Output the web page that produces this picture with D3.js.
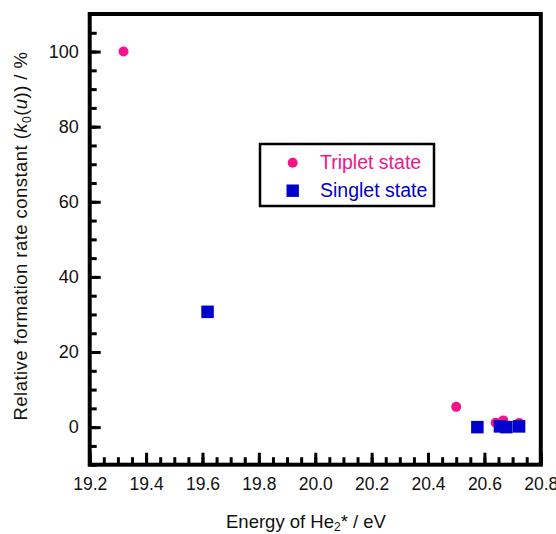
<!DOCTYPE html>
<html>
<head>
<meta charset="utf-8">
<script src="https://cdn.jsdelivr.net/npm/d3@7"></script>
<style>
  html, body { margin: 0; padding: 0; background: #fff; }
  svg { display: block; }
  text { font-family: "Liberation Sans", Arial, sans-serif; fill: #111; }
</style>
</head>
<body>
<svg id="chart" width="556" height="534"></svg>
<script>
// ---- data ----
const tripletEnergy = [19.32, 20.50, 20.64, 20.667, 20.723];
const tripletRate   = [100,   5.4,   1.2,   1.8,    1.1];
const singletEnergy = [19.618, 20.575, 20.655, 20.678, 20.723];
const singletRate   = [30.7,   0.0,    0.2,    0.0,    0.2];
const xTickLabels = [19.2, 19.4, 19.6, 19.8, 20.0, 20.2, 20.4, 20.6, 20.8];
const yTickLabels = [0, 20, 40, 60, 80, 100];
const seriesNames = ["Triplet state", "Singlet state"];
const seriesColors = ["#f5138c", "#0000cc"];

// ---- layout ----
const L = 89.7, R = 540.8, T = 14, B = 464.7;
const svg = d3.select("#chart");
const x = d3.scaleLinear().domain([19.2, 20.8]).range([L, R]);
const y = d3.scaleLinear().domain([-10, 110]).range([B, T]);

const xMinor = d3.range(0, 33).map(i => 19.2 + i * 0.05);
const yMinor = d3.range(-10, 111, 5);

// minor ticks
svg.append("g").attr("transform", `translate(0,${B})`)
  .call(d3.axisBottom(x).tickValues(xMinor).tickSize(-7.5).tickFormat(""))
  .call(g => g.select(".domain").remove())
  .call(g => g.selectAll("line").attr("stroke", "#000").attr("stroke-width", 3));
svg.append("g").attr("transform", `translate(${L},0)`)
  .call(d3.axisLeft(y).tickValues(yMinor).tickSize(-7).tickFormat(""))
  .call(g => g.select(".domain").remove())
  .call(g => g.selectAll("line").attr("stroke", "#000").attr("stroke-width", 3));

// major ticks + labels
svg.append("g").attr("transform", `translate(0,${B})`)
  .call(d3.axisBottom(x).tickValues(xTickLabels).tickSize(-12).tickPadding(13)
        .tickFormat(d3.format(".1f")))
  .call(g => g.select(".domain").remove())
  .call(g => g.selectAll("line").attr("stroke", "#000").attr("stroke-width", 3))
  .call(g => g.selectAll("text").attr("font-size", 17.5).attr("fill", "#111")
        .style("font-family", "'Liberation Sans', Arial, sans-serif"));
svg.append("g").attr("transform", `translate(${L},0)`)
  .call(d3.axisLeft(y).tickValues(yTickLabels).tickSize(-11).tickPadding(11)
        .tickFormat(d3.format("d")))
  .call(g => g.select(".domain").remove())
  .call(g => g.selectAll("line").attr("stroke", "#000").attr("stroke-width", 3))
  .call(g => g.selectAll("text").attr("font-size", 18).attr("fill", "#111")
        .style("font-family", "'Liberation Sans', Arial, sans-serif"));

// frame
svg.append("rect").attr("x", L).attr("y", T).attr("width", R - L).attr("height", B - T)
  .attr("fill", "none").attr("stroke", "#000").attr("stroke-width", 4);

// data marks
svg.append("g").selectAll("circle").data(tripletEnergy.map((e, i) => [e, tripletRate[i]]))
  .join("circle").attr("cx", d => x(d[0])).attr("cy", d => y(d[1])).attr("r", 5)
  .attr("fill", seriesColors[0]);
const sq = 12.5;
svg.append("g").selectAll("rect").data(singletEnergy.map((e, i) => [e, singletRate[i]]))
  .join("rect").attr("x", d => x(d[0]) - sq / 2).attr("y", d => y(d[1]) - sq / 2)
  .attr("width", sq).attr("height", sq).attr("fill", seriesColors[1]);

// legend
const lg = svg.append("g");
lg.append("rect").attr("x", 260).attr("y", 144).attr("width", 174).attr("height", 62)
  .attr("fill", "#fff").attr("stroke", "#000").attr("stroke-width", 2.5);
lg.append("circle").attr("cx", 292.7).attr("cy", 162.7).attr("r", 5).attr("fill", seriesColors[0]);
lg.append("rect").attr("x", 292.7 - 6.2).attr("y", 190.7 - 6.2).attr("width", 12.4).attr("height", 12.4)
  .attr("fill", seriesColors[1]);
lg.selectAll("text.lt").data(seriesNames).join("text").attr("class", "lt")
  .attr("x", 320).attr("y", (d, i) => 169 + i * 28)
  .attr("font-size", 19.5).attr("fill", (d, i) => seriesColors[i]).style("fill", (d, i) => seriesColors[i])
  .text(d => d);

// x title
const xt = svg.append("text").attr("x", 306).attr("y", 528).attr("text-anchor", "middle")
  .attr("font-size", 18.5);
xt.append("tspan").text("Energy of He");
xt.append("tspan").attr("font-size", 12).attr("dy", 3).text("2");
xt.append("tspan").attr("dy", -3).text("* / eV");

// y title
const yt = svg.append("text").attr("transform", "translate(27.3,236) rotate(-90)")
  .attr("text-anchor", "middle").attr("font-size", 18.5).style("letter-spacing", "0.45px");
yt.append("tspan").text("Relative formation rate constant (");
yt.append("tspan").attr("font-style", "italic").text("k");
yt.append("tspan").attr("font-size", 12).attr("dy", 4).text("0");
yt.append("tspan").attr("dy", -4).text("(");
yt.append("tspan").attr("font-style", "italic").text("u");
yt.append("tspan").text(")) / %");
</script>
</body>
</html>
